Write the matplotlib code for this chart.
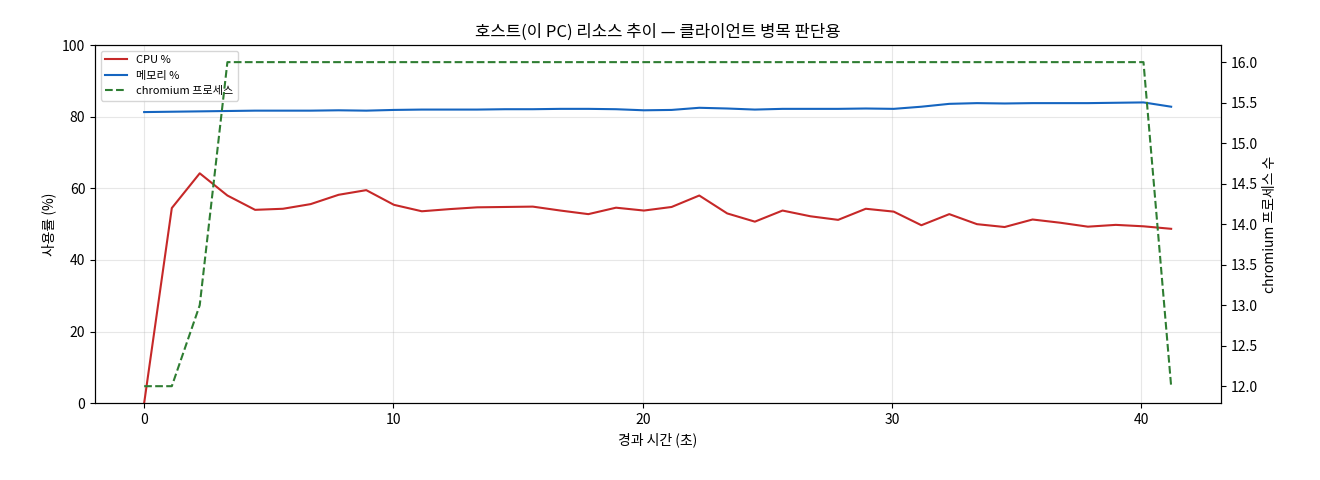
import matplotlib
matplotlib.use("Agg")
import matplotlib.pyplot as plt
plt.rcParams['font.family'] = ['Noto Sans CJK KR', 'DejaVu Sans']

t = [0, 1.11, 2.23, 3.34, 4.45, 5.57, 6.68, 7.8, 8.91, 10.02, 11.14, 12.25, 13.36, 14.48, 15.59,
     16.7, 17.82, 18.93, 20.05, 21.16, 22.27, 23.39, 24.5, 25.61, 26.73, 27.84, 28.95, 30.07,
     31.18, 32.3, 33.41, 34.52, 35.64, 36.75, 37.86, 38.98, 40.09, 41.2]
cpu = [0, 54.5, 64.2, 58, 54, 54.3, 55.6, 58.2, 59.5, 55.4, 53.6, 54.2, 54.7, 54.8, 54.9,
       53.8, 52.8, 54.6, 53.8, 54.8, 58, 53, 50.7, 53.8, 52.2, 51.2, 54.3, 53.5,
       49.7, 52.8, 50, 49.2, 51.3, 50.4, 49.3, 49.8, 49.4, 48.7]
mem = [81.3, 81.4, 81.5, 81.6, 81.7, 81.7, 81.7, 81.8, 81.7, 81.9, 82.0, 82.0, 82.0, 82.1, 82.1,
       82.2, 82.2, 82.1, 81.8, 81.9, 82.5, 82.3, 82.0, 82.2, 82.2, 82.2, 82.3, 82.2,
       82.8, 83.6, 83.8, 83.7, 83.8, 83.8, 83.8, 83.9, 84.0, 82.8]
proc = [12, 12, 13, 16, 16, 16, 16, 16, 16, 16, 16, 16, 16, 16, 16,
        16, 16, 16, 16, 16, 16, 16, 16, 16, 16, 16, 16, 16,
        16, 16, 16, 16, 16, 16, 16, 16, 16, 12]

fig, ax = plt.subplots(figsize=(13.2, 4.8), dpi=100)
fig.subplots_adjust(left=0.072, right=0.925, top=0.906, bottom=0.16)
l1, = ax.plot(t, cpu, color='#c62828', lw=1.5, label='CPU %')
l2, = ax.plot(t, mem, color='#1565c0', lw=1.5, label='메모리 %')
ax.set_ylim(0, 100)
ax.set_xlim(-1.97, 43.2)
ax.set_xlabel('경과 시간 (초)')
ax.set_ylabel('사용률 (%)')
ax.grid(True, alpha=0.3)
ax.set_title('호스트(이 PC) 리소스 추이 — 클라이언트 병목 판단용')
ax2 = ax.twinx()
l3, = ax2.plot(t, proc, color='#2e7d32', lw=1.5, ls='--', label='chromium 프로세스')
ax2.set_ylim(11.79, 16.21)
ax2.set_ylabel('chromium 프로세스 수')
ax.legend(handles=[l1, l2, l3], loc='upper left', fontsize=8)
fig.savefig('out.png')
